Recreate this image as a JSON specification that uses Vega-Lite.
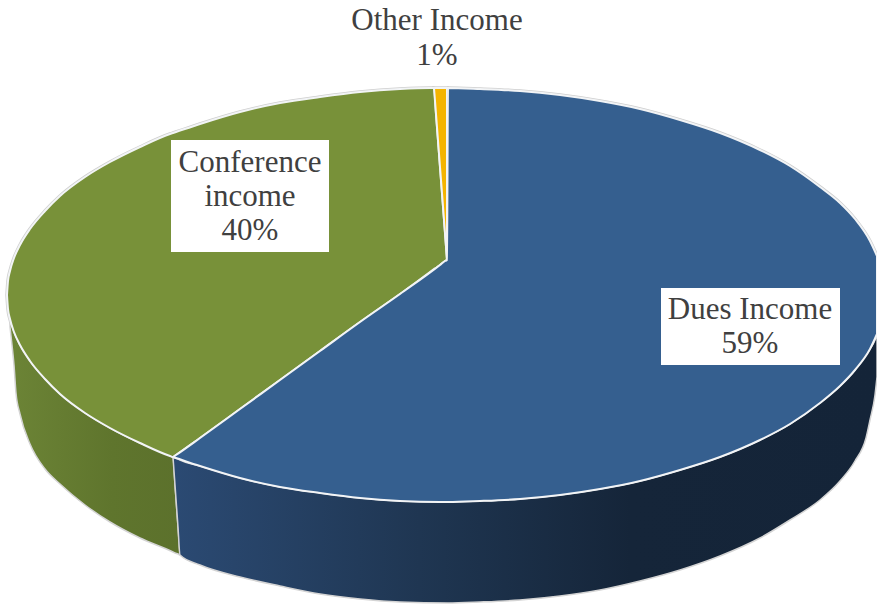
{
  "$schema": "https://vega.github.io/schema/vega-lite/v6.json",
  "width": 877,
  "height": 604,
  "padding": 0,
  "autosize": {"type": "none"},
  "background": "white",
  "config": {"view": {"stroke": null}},
  "datasets": {
    "conferenceSide": [
      {"x": 10, "top": 319, "bottom": 327},
      {"x": 12, "top": 326, "bottom": 345},
      {"x": 14, "top": 332, "bottom": 365},
      {"x": 16, "top": 337, "bottom": 393},
      {"x": 20, "top": 345, "bottom": 414},
      {"x": 30, "top": 361, "bottom": 444},
      {"x": 45, "top": 379, "bottom": 469},
      {"x": 60, "top": 394, "bottom": 484},
      {"x": 85, "top": 413, "bottom": 505},
      {"x": 110, "top": 428, "bottom": 522},
      {"x": 140, "top": 443, "bottom": 538},
      {"x": 173, "top": 457, "bottom": 552},
      {"x": 175, "top": 485, "bottom": 553},
      {"x": 178, "top": 527, "bottom": 554},
      {"x": 180, "top": 555, "bottom": 555}
    ],
    "duesSide": [
      {"x": 173, "top": 457, "bottom": 457},
      {"x": 175, "top": 458, "bottom": 485},
      {"x": 178, "top": 459, "bottom": 527},
      {"x": 180, "top": 460, "bottom": 555},
      {"x": 200, "top": 466, "bottom": 565},
      {"x": 240, "top": 478, "bottom": 577},
      {"x": 280, "top": 487, "bottom": 586},
      {"x": 320, "top": 493, "bottom": 594},
      {"x": 360, "top": 498, "bottom": 599},
      {"x": 400, "top": 501, "bottom": 602},
      {"x": 448, "top": 502, "bottom": 603},
      {"x": 480, "top": 501, "bottom": 602},
      {"x": 520, "top": 499, "bottom": 600},
      {"x": 560, "top": 495, "bottom": 596},
      {"x": 600, "top": 489, "bottom": 590},
      {"x": 640, "top": 481, "bottom": 581},
      {"x": 680, "top": 470, "bottom": 570},
      {"x": 720, "top": 457, "bottom": 556},
      {"x": 760, "top": 440, "bottom": 538},
      {"x": 790, "top": 424, "bottom": 520},
      {"x": 820, "top": 403, "bottom": 500},
      {"x": 840, "top": 386, "bottom": 481},
      {"x": 855, "top": 370, "bottom": 461},
      {"x": 866, "top": 355, "bottom": 438},
      {"x": 870, "top": 349, "bottom": 420},
      {"x": 875, "top": 340, "bottom": 395},
      {"x": 877, "top": 334, "bottom": 377}
    ],
    "slices": [
      {"slice": "Conference income", "x": 7, "top": 295, "bottom": 295},
      {"slice": "Conference income", "x": 8, "top": 281, "bottom": 309},
      {"slice": "Conference income", "x": 10, "top": 271, "bottom": 319},
      {"slice": "Conference income", "x": 14, "top": 258, "bottom": 332},
      {"slice": "Conference income", "x": 20, "top": 245, "bottom": 345},
      {"slice": "Conference income", "x": 30, "top": 229, "bottom": 361},
      {"slice": "Conference income", "x": 45, "top": 211, "bottom": 379},
      {"slice": "Conference income", "x": 60, "top": 196, "bottom": 394},
      {"slice": "Conference income", "x": 85, "top": 177, "bottom": 413},
      {"slice": "Conference income", "x": 110, "top": 162, "bottom": 428},
      {"slice": "Conference income", "x": 140, "top": 147, "bottom": 443},
      {"slice": "Conference income", "x": 170, "top": 134, "bottom": 456},
      {"slice": "Conference income", "x": 173, "top": 133, "bottom": 457},
      {"slice": "Conference income", "x": 176, "top": 132, "bottom": 455},
      {"slice": "Conference income", "x": 200, "top": 124, "bottom": 438},
      {"slice": "Conference income", "x": 240, "top": 112, "bottom": 409},
      {"slice": "Conference income", "x": 280, "top": 103, "bottom": 380},
      {"slice": "Conference income", "x": 320, "top": 97, "bottom": 351},
      {"slice": "Conference income", "x": 360, "top": 92, "bottom": 322},
      {"slice": "Conference income", "x": 400, "top": 89, "bottom": 294},
      {"slice": "Conference income", "x": 430, "top": 88, "bottom": 272},
      {"slice": "Conference income", "x": 434, "top": 88, "bottom": 269},
      {"slice": "Conference income", "x": 436, "top": 114, "bottom": 268},
      {"slice": "Conference income", "x": 440, "top": 167, "bottom": 265},
      {"slice": "Conference income", "x": 445, "top": 233, "bottom": 261},
      {"slice": "Conference income", "x": 447, "top": 260, "bottom": 260},
      {"slice": "Other Income", "x": 434, "top": 88, "bottom": 88},
      {"slice": "Other Income", "x": 436, "top": 88, "bottom": 114},
      {"slice": "Other Income", "x": 440, "top": 88, "bottom": 167},
      {"slice": "Other Income", "x": 445, "top": 88, "bottom": 233},
      {"slice": "Other Income", "x": 447, "top": 88, "bottom": 260},
      {"slice": "Dues Income", "x": 173, "top": 457, "bottom": 457},
      {"slice": "Dues Income", "x": 176, "top": 455, "bottom": 458},
      {"slice": "Dues Income", "x": 200, "top": 438, "bottom": 466},
      {"slice": "Dues Income", "x": 240, "top": 409, "bottom": 478},
      {"slice": "Dues Income", "x": 280, "top": 380, "bottom": 487},
      {"slice": "Dues Income", "x": 320, "top": 351, "bottom": 493},
      {"slice": "Dues Income", "x": 360, "top": 322, "bottom": 498},
      {"slice": "Dues Income", "x": 400, "top": 294, "bottom": 501},
      {"slice": "Dues Income", "x": 440, "top": 265, "bottom": 502},
      {"slice": "Dues Income", "x": 445, "top": 261, "bottom": 502},
      {"slice": "Dues Income", "x": 447, "top": 260, "bottom": 502},
      {"slice": "Dues Income", "x": 448, "top": 88, "bottom": 502},
      {"slice": "Dues Income", "x": 480, "top": 89, "bottom": 501},
      {"slice": "Dues Income", "x": 520, "top": 91, "bottom": 499},
      {"slice": "Dues Income", "x": 560, "top": 95, "bottom": 495},
      {"slice": "Dues Income", "x": 600, "top": 101, "bottom": 489},
      {"slice": "Dues Income", "x": 640, "top": 109, "bottom": 481},
      {"slice": "Dues Income", "x": 680, "top": 120, "bottom": 470},
      {"slice": "Dues Income", "x": 720, "top": 133, "bottom": 457},
      {"slice": "Dues Income", "x": 760, "top": 150, "bottom": 440},
      {"slice": "Dues Income", "x": 790, "top": 166, "bottom": 424},
      {"slice": "Dues Income", "x": 820, "top": 187, "bottom": 403},
      {"slice": "Dues Income", "x": 840, "top": 203, "bottom": 386},
      {"slice": "Dues Income", "x": 855, "top": 219, "bottom": 370},
      {"slice": "Dues Income", "x": 870, "top": 241, "bottom": 349},
      {"slice": "Dues Income", "x": 877, "top": 256, "bottom": 334}
    ],
    "labelBoxes": [
      {"slice": "Conference income", "x": 171, "x2": 329, "top": 140, "bottom": 252},
      {"slice": "Dues Income", "x": 661, "x2": 840, "top": 288, "bottom": 365}
    ],
    "labelLines": [
      {"slice": "Other Income", "text": "Other Income", "x": 437, "y": 21},
      {"slice": "Other Income", "text": "1%", "x": 437, "y": 56},
      {"slice": "Conference income", "text": "Conference", "x": 250, "y": 163},
      {"slice": "Conference income", "text": "income", "x": 250, "y": 197},
      {"slice": "Conference income", "text": "40%", "x": 250, "y": 231},
      {"slice": "Dues Income", "text": "Dues Income", "x": 750, "y": 310},
      {"slice": "Dues Income", "text": "59%", "x": 750, "y": 344}
    ]
  },
  "layer": [
    {
      "data": {"name": "slices"},
      "mark": {"type": "area", "interpolate": "monotone", "stroke": "#cfcfcf", "strokeWidth": 3.5, "color": "#cfcfcf"},
      "encoding": {
        "x": {"field": "x", "type": "quantitative", "scale": {"domain": [0, 877]}, "axis": null},
        "y": {"field": "top", "type": "quantitative", "scale": {"domain": [604, 0]}, "axis": null, "stack": null},
        "y2": {"field": "bottom"},
        "detail": {"field": "slice"}
      }
    },
    {
      "data": {"name": "conferenceSide"},
      "mark": {
        "type": "area",
        "interpolate": "monotone",
        "stroke": "#d4d4d4",
        "strokeWidth": 1.5,
        "color": {
          "gradient": "linear", "x1": 0, "x2": 1, "y1": 0, "y2": 0,
          "stops": [
            {"offset": 0, "color": "#6c8436"},
            {"offset": 0.6, "color": "#5f752d"},
            {"offset": 1, "color": "#5c712c"}
          ]
        }
      },
      "encoding": {
        "x": {"field": "x", "type": "quantitative", "scale": {"domain": [0, 877]}, "axis": null},
        "y": {"field": "top", "type": "quantitative", "scale": {"domain": [604, 0]}, "axis": null, "stack": null},
        "y2": {"field": "bottom"}
      }
    },
    {
      "data": {"name": "duesSide"},
      "mark": {
        "type": "area",
        "interpolate": "monotone",
        "stroke": "#d4d4d4",
        "strokeWidth": 1.5,
        "color": {
          "gradient": "linear", "x1": 0, "x2": 1, "y1": 0, "y2": 0,
          "stops": [
            {"offset": 0, "color": "#2b4a73"},
            {"offset": 0.35, "color": "#1f3652"},
            {"offset": 0.65, "color": "#152539"},
            {"offset": 1, "color": "#142438"}
          ]
        }
      },
      "encoding": {
        "x": {"field": "x", "type": "quantitative", "scale": {"domain": [0, 877]}, "axis": null},
        "y": {"field": "top", "type": "quantitative", "scale": {"domain": [604, 0]}, "axis": null, "stack": null},
        "y2": {"field": "bottom"}
      }
    },
    {
      "data": {"name": "slices"},
      "mark": {"type": "area", "interpolate": "monotone", "stroke": "#f2f4f6", "strokeWidth": 2},
      "encoding": {
        "x": {"field": "x", "type": "quantitative", "scale": {"domain": [0, 877]}, "axis": null},
        "y": {"field": "top", "type": "quantitative", "scale": {"domain": [604, 0]}, "axis": null, "stack": null},
        "y2": {"field": "bottom"},
        "color": {
          "field": "slice",
          "type": "nominal",
          "legend": null,
          "scale": {
            "domain": ["Dues Income", "Conference income", "Other Income"],
            "range": ["#355f8f", "#789139", "#f4b400"]
          }
        }
      }
    },
    {
      "data": {"name": "labelBoxes"},
      "mark": {"type": "rect", "color": "white"},
      "encoding": {
        "x": {"field": "x", "type": "quantitative", "scale": {"domain": [0, 877]}, "axis": null},
        "x2": {"field": "x2"},
        "y": {"field": "top", "type": "quantitative", "scale": {"domain": [604, 0]}, "axis": null},
        "y2": {"field": "bottom"}
      }
    },
    {
      "data": {"name": "labelLines"},
      "mark": {"type": "text", "font": "Liberation Serif", "fontSize": 31, "color": "#404040", "align": "center", "baseline": "middle"},
      "encoding": {
        "x": {"field": "x", "type": "quantitative", "scale": {"domain": [0, 877]}, "axis": null},
        "y": {"field": "y", "type": "quantitative", "scale": {"domain": [604, 0]}, "axis": null},
        "text": {"field": "text"}
      }
    }
  ]
}
